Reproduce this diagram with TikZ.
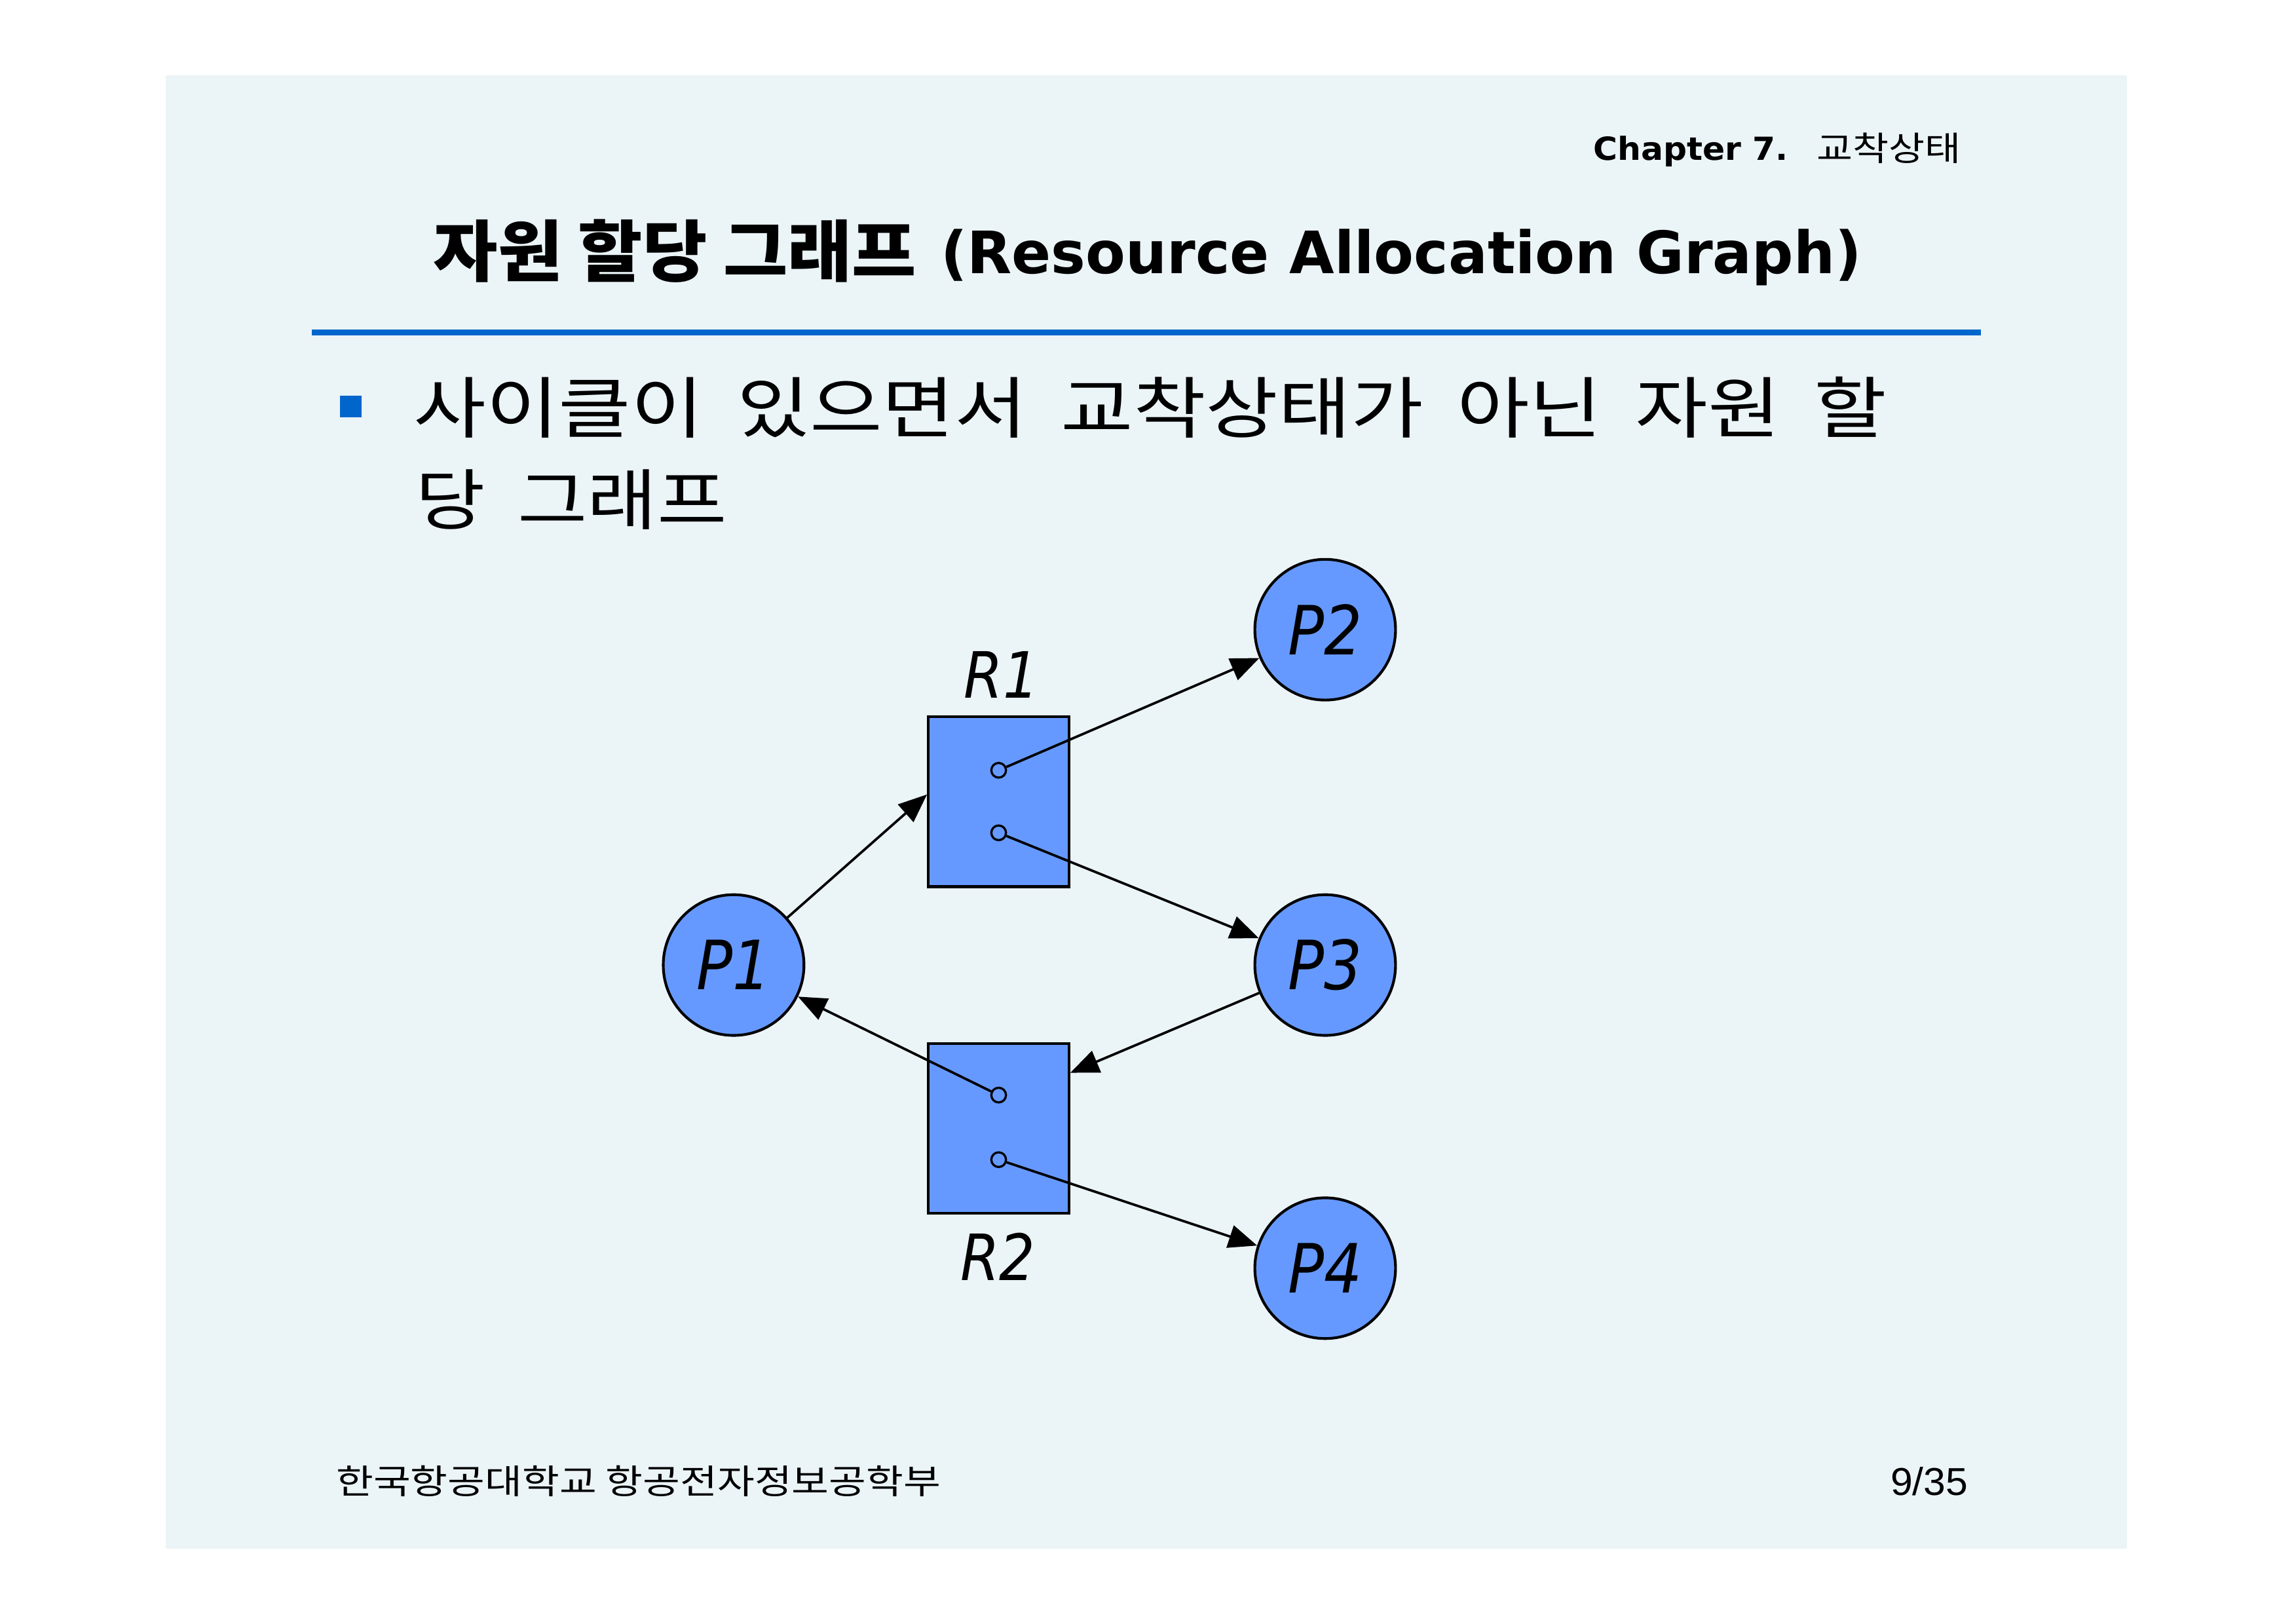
\documentclass[tikz,border=0pt]{standalone}
\usepackage{fontspec}
\usepackage{graphicx}
\usetikzlibrary{arrows.meta,calc}
\setmainfont{DejaVu Sans}[ItalicFont={DejaVu Sans Oblique},BoldFont={DejaVu Sans Bold}]
\newfontfamily\krfont{Noto Sans CJK KR}
\newfontfamily\numfont{Liberation Sans}
\newlength\pxu
\setlength\pxu{0.18941mm}
\definecolor{panelbg}{RGB}{235,244,247}
\definecolor{rulblue}{RGB}{0,102,204}
\definecolor{nodeblue}{RGB}{102,153,255}
% text boxed to a given width and total height (in px units)
\newcommand\fitbox[3]{\resizebox*{#1\pxu}{#2\pxu}{#3}}
% text squeezed to a given width, natural height kept
\newcommand\squeeze[2]{\resizebox{#1\pxu}{\height}{#2}}
\newcommand\lab[1]{\scalebox{0.88}[1]{#1}}
\tikzset{
  txt/.style={inner sep=0pt, outer sep=0pt},
  proc/.style={circle, draw=black, line width=1pt, fill=nodeblue,
    minimum size=18.2mm, inner sep=0pt,
    font=\fontsize{25pt}{30pt}\selectfont\itshape},
  res/.style={rectangle, draw=black, line width=1pt, fill=nodeblue,
    minimum width=18.18mm, minimum height=21.97mm, inner sep=0pt},
  slot/.style={circle, draw=black, line width=0.8pt, fill=nodeblue,
    minimum size=1.9mm, inner sep=0pt},
  reslabel/.style={inner sep=0pt, font=\fontsize{23.5pt}{28pt}\selectfont\itshape},
  edge/.style={-{Triangle[length=10.5pt,width=8.5pt]}, line width=0.9pt},
}
\begin{document}
\begin{tikzpicture}[x=0.18941mm, y=-0.18941mm]
\useasboundingbox (0,0) rectangle (1568,1108.66);
\fill[white] (0,0) rectangle (1568,1108.66);
\fill[panelbg] (113.3,51.4) rectangle (1452.6,1057.6);

% header
\node[txt, anchor=base west] (chap) at (1088.3,109.3)
  {\squeeze{133}{\fontsize{11.7pt}{14pt}\selectfont\bfseries Chapter 7.}};
\node[txt, anchor=north west] (chapkr) at (1240.6,90.9)
  {\fitbox{98.4}{20.9}{\krfont 교착상태}};

% title and rule
\node[txt, anchor=north west] (titlekr) at (296,149.9)
  {\fitbox{330}{43.2}{\krfont\bfseries 자원 할당 그래프}};
\node[txt, anchor=base west] (titleen) at (642.5,186.9)
  {\squeeze{628.7}{\fontsize{21.5pt}{26pt}\selectfont\bfseries (Resource Allocation Graph)}};
\draw[rulblue, line width=2.15pt] (213,227) -- (1353,227);

% bullet text
\fill[rulblue] (232,270.2) rectangle (246.8,285.1);
\node[txt, anchor=north west] (line1) at (282.5,257.2)
  {\fitbox{1005.7}{41.8}{\krfont 사이클이\hspace{0.2em} 있으면서\hspace{0.2em} 교착상태가\hspace{0.2em} 아닌\hspace{0.2em} 자원\hspace{0.2em} 할}};
\node[txt, anchor=north west] (line2) at (284,320.6)
  {\fitbox{212.5}{41}{\krfont 당\hspace{0.2em} 그래프}};

% resources
\node[res] (R1) at (682,547.5) {};
\node[res] (R2) at (682,770.5) {};
\node[slot] (d11) at (682,526) {};
\node[slot] (d12) at (682,568.7) {};
\node[slot] (d21) at (682,747.8) {};
\node[slot] (d22) at (682,791.9) {};
\node[reslabel] (R1lab) at (684,460.6) {\lab{R1}};
\node[reslabel] (R2lab) at (681.5,858) {\lab{R2}};

% processes
\node[proc] (P1) at (501,659) {\lab{P1}};
\node[proc] (P2) at (905,430) {\lab{P2}};
\node[proc] (P3) at (905,659) {\lab{P3}};
\node[proc] (P4) at (905,866) {\lab{P4}};

% edges
\coordinate (r1in) at ($(R1.west)+(0,-5)$);
\coordinate (r2in) at ($(R2.north east)+(0,21)$);
\draw[edge] (P1) -- (r1in);
\draw[edge] (d11) -- (P2);
\draw[edge] (d12) -- (P3);
\draw[edge] (P3) -- (r2in);
\draw[edge] (d21) -- (P1);
\draw[edge] (d22) -- (P4);

% footer
\node[txt, anchor=north west] (footkr) at (229.6,1000.6)
  {\fitbox{412.9}{21.2}{\krfont 한국항공대학교 항공전자정보공학부}};
\node[txt, anchor=base west] (page) at (1291.1,1021.2)
  {\squeeze{52.8}{\numfont\fontsize{14.3pt}{17pt}\selectfont 9/35}};
\end{tikzpicture}
\end{document}
